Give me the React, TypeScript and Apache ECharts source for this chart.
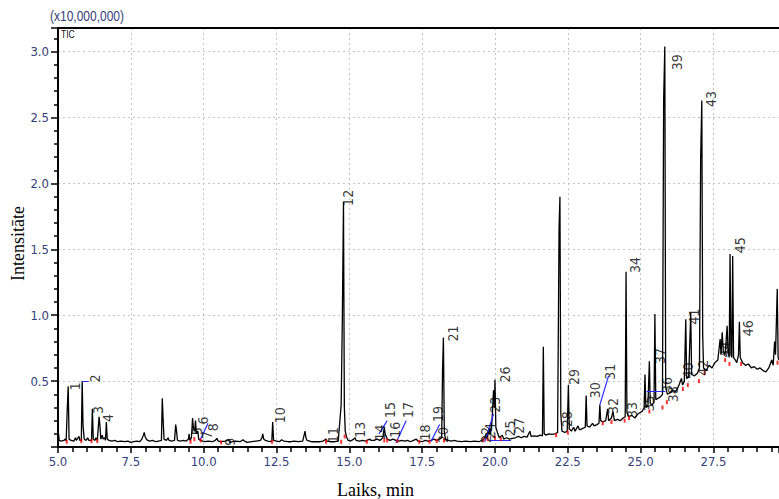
import React, { useEffect, useRef } from "react";
import * as echarts from "echarts";

// ---- data (time in min, intensity in x10,000,000) ----
const trace5to10: [number, number][] = [
  [5.0,0.05],[5.02,0.1],[5.04,0.05],[5.1,0.045],[5.2,0.05],[5.25,0.06],[5.28,0.045],[5.32,0.3],[5.35,0.46],[5.38,0.06],[5.45,0.05],[5.55,0.045],[5.6,0.07],[5.63,0.05],[5.72,0.08],[5.75,0.05],[5.8,0.05],[5.83,0.5],[5.86,0.16],[5.9,0.06],[5.96,0.05],[6.02,0.07],[6.06,0.05],[6.15,0.05],[6.18,0.29],[6.21,0.06],[6.27,0.05],[6.3,0.07],[6.35,0.05],[6.41,0.23],[6.44,0.16],[6.47,0.06],[6.52,0.09],[6.55,0.06],[6.6,0.07],[6.63,0.05],[6.66,0.19],[6.69,0.06],[6.75,0.05],[6.85,0.045],[6.95,0.05],[7.05,0.04],[7.15,0.045],[7.3,0.04],[7.4,0.045],[7.5,0.035],[7.6,0.04],[7.7,0.045],[7.8,0.04],[7.88,0.06],[7.93,0.09],[7.96,0.11],[7.99,0.08],[8.03,0.06],[8.08,0.05],[8.15,0.045],[8.25,0.05],[8.35,0.04],[8.45,0.045],[8.55,0.05],[8.58,0.37],[8.61,0.2],[8.64,0.06],[8.72,0.05],[8.78,0.07],[8.81,0.05],[8.9,0.045],[9.0,0.05],[9.04,0.17],[9.07,0.12],[9.1,0.05],[9.2,0.045],[9.3,0.05],[9.4,0.045],[9.48,0.06],[9.5,0.1],[9.53,0.05],[9.58,0.07],[9.62,0.22],[9.65,0.14],[9.69,0.12],[9.72,0.2],[9.75,0.1],[9.8,0.12],[9.83,0.06],[9.9,0.05],[9.97,0.045]
];
const trace10to15: [number, number][] = [
  [10.05,0.04],[10.15,0.045],[10.3,0.04],[10.4,0.05],[10.45,0.065],[10.5,0.045],[10.6,0.04],[10.75,0.045],[10.85,0.055],[10.9,0.035],[11.0,0.04],[11.1,0.045],[11.25,0.04],[11.35,0.055],[11.4,0.045],[11.5,0.035],[11.65,0.04],[11.8,0.045],[11.95,0.05],[12.0,0.07],[12.03,0.1],[12.06,0.06],[12.12,0.05],[12.2,0.045],[12.3,0.04],[12.34,0.05],[12.37,0.19],[12.4,0.05],[12.5,0.045],[12.6,0.04],[12.68,0.055],[12.75,0.045],[12.9,0.04],[13.0,0.04],[13.1,0.045],[13.25,0.04],[13.4,0.045],[13.48,0.12],[13.51,0.07],[13.55,0.05],[13.7,0.04],[13.85,0.04],[14.0,0.04],[14.1,0.045],[14.2,0.06],[14.23,0.045],[14.35,0.04],[14.5,0.04],[14.62,0.045],[14.72,0.32],[14.76,0.96],[14.8,1.86],[14.83,0.3],[14.86,0.12],[14.9,0.08],[14.96,0.05]
];
const trace15to20: [number, number][] = [
  [15.05,0.045],[15.15,0.06],[15.2,0.07],[15.23,0.05],[15.35,0.045],[15.45,0.05],[15.55,0.045],[15.7,0.06],[15.75,0.05],[15.85,0.05],[15.95,0.06],[16.05,0.05],[16.15,0.07],[16.2,0.15],[16.23,0.1],[16.27,0.08],[16.3,0.06],[16.4,0.05],[16.5,0.06],[16.6,0.05],[16.7,0.045],[16.8,0.05],[16.9,0.045],[17.0,0.05],[17.1,0.04],[17.2,0.05],[17.3,0.06],[17.35,0.045],[17.5,0.04],[17.6,0.05],[17.7,0.045],[17.8,0.05],[17.9,0.06],[18.0,0.05],[18.1,0.06],[18.17,0.07],[18.2,0.58],[18.23,0.83],[18.26,0.12],[18.3,0.06],[18.4,0.05],[18.5,0.045],[18.6,0.05],[18.7,0.045],[18.85,0.04],[19.0,0.045],[19.15,0.04],[19.3,0.045],[19.45,0.04],[19.55,0.05],[19.62,0.06],[19.7,0.1],[19.74,0.07],[19.8,0.14],[19.84,0.09],[19.9,0.2],[19.95,0.43],[19.98,0.3],[20.0,0.51],[20.03,0.15],[20.1,0.1],[20.15,0.07]
];
const trace20to25: [number, number][] = [
  [20.25,0.09],[20.3,0.06],[20.4,0.07],[20.5,0.06],[20.6,0.065],[20.7,0.07],[20.8,0.08],[20.9,0.07],[21.0,0.08],[21.1,0.075],[21.2,0.12],[21.24,0.08],[21.35,0.085],[21.45,0.08],[21.55,0.09],[21.63,0.085],[21.66,0.76],[21.69,0.1],[21.75,0.09],[21.85,0.1],[21.95,0.095],[22.05,0.1],[22.15,0.11],[22.2,1.66],[22.23,1.9],[22.26,0.25],[22.3,0.12],[22.4,0.11],[22.48,0.12],[22.52,0.47],[22.55,0.14],[22.62,0.12],[22.7,0.15],[22.75,0.12],[22.85,0.16],[22.9,0.13],[23.0,0.14],[23.1,0.15],[23.13,0.39],[23.16,0.16],[23.25,0.15],[23.35,0.18],[23.4,0.16],[23.5,0.17],[23.57,0.18],[23.6,0.32],[23.63,0.2],[23.7,0.19],[23.8,0.2],[23.87,0.29],[23.9,0.2],[24.0,0.22],[24.05,0.27],[24.1,0.2],[24.2,0.21],[24.3,0.2],[24.4,0.22],[24.47,0.23],[24.5,1.33],[24.53,0.26],[24.6,0.23],[24.7,0.24],[24.8,0.22],[24.9,0.25],[24.97,0.26]
];
const trace25to30: [number, number][] = [
  [25.05,0.27],[25.12,0.3],[25.15,0.55],[25.18,0.3],[25.25,0.31],[25.3,0.65],[25.33,0.33],[25.4,0.32],[25.46,0.34],[25.49,1.01],[25.52,0.36],[25.6,0.37],[25.68,0.38],[25.75,0.4],[25.79,2.63],[25.83,3.04],[25.86,0.45],[25.92,0.4],[26.0,0.41],[26.1,0.43],[26.2,0.42],[26.3,0.46],[26.4,0.52],[26.44,0.47],[26.5,0.5],[26.55,0.97],[26.58,0.52],[26.65,0.53],[26.72,1.02],[26.75,0.55],[26.85,0.54],[26.95,0.56],[27.02,0.6],[27.06,2.18],[27.1,2.63],[27.13,0.86],[27.16,0.6],[27.25,0.58],[27.35,0.62],[27.45,0.6],[27.55,0.64],[27.65,0.66],[27.73,0.82],[27.76,0.7],[27.8,0.87],[27.84,0.72],[27.9,0.7],[27.97,0.92],[28.0,0.72],[28.04,0.68],[28.07,1.465],[28.1,0.7],[28.13,0.68],[28.16,1.45],[28.19,0.68],[28.25,0.66],[28.3,0.64],[28.36,0.7],[28.39,0.95],[28.42,0.68],[28.5,0.64],[28.6,0.62],[28.7,0.63],[28.8,0.6],[28.9,0.61],[29.0,0.59],[29.1,0.6],[29.2,0.58],[29.3,0.57],[29.4,0.6],[29.5,0.66],[29.55,0.62],[29.6,0.8],[29.63,0.7],[29.69,1.2],[29.72,0.68],[29.75,0.66]
];

// peak numbers: [label, time, intensity at the label's lower end]
const peakLabels: [string, number, number][] = [
  ["1",5.58,0.43],["2",6.28,0.49],["3",6.38,0.25],["4",6.72,0.19],["5",9.77,0.09],["6",9.97,0.17],["7",10.1,0.06],["8",10.31,0.12],
  ["9",10.9,0.01],["10",12.62,0.18],["11",14.45,0.03],["12",14.96,1.83],["13",15.37,0.07],["14",16.05,0.05],["15",16.4,0.22],["16",16.57,0.07],
  ["17",17.03,0.22],["18",17.6,0.05],["19",18.06,0.19],["20",18.23,0.03],["21",18.57,0.8],["22",19.7,0.03],["23",20.0,0.26],["24",19.83,0.06],
  ["25",20.5,0.08],["26",20.35,0.49],["27",20.84,0.1],["28",22.48,0.15],["29",22.71,0.47],["30",23.43,0.37],["31",23.95,0.51],["32",24.04,0.25],
  ["33",24.69,0.22],["34",24.81,1.32],["35",25.3,0.27],["36",25.9,0.41],["37",25.67,0.63],["38",26.1,0.34],["39",26.25,2.86],["40",26.64,0.52],
  ["41",26.83,0.93],["42",27.15,0.54],["43",27.42,2.58],["44",27.9,0.68],["45",28.41,1.47],["46",28.7,0.84]
];

// peak start / end marks
const redMarks: [number, number][] = [
  [5.3,0.04],[5.8,0.045],[6.15,0.045],[6.35,0.045],[9.55,0.04],[9.68,0.06],[9.9,0.05],[10.6,0.035],[12.35,0.04],[14.2,0.04],[14.72,0.04],[14.84,0.08],
  [15.6,0.04],[16.2,0.05],[16.3,0.05],[16.65,0.045],[17.4,0.04],[17.75,0.04],[18.0,0.045],[18.25,0.05],[19.6,0.05],[19.75,0.06],[20.0,0.07],[20.2,0.06],
  [22.1,0.09],[22.5,0.11],[23.7,0.18],[24.0,0.19],[24.45,0.2],[24.6,0.22],[25.3,0.27],[25.75,0.3],[25.9,0.34],[26.45,0.44],[26.62,0.47],[27.0,0.5],
  [27.2,0.56],[27.9,0.66],[28.05,0.63],[28.45,0.63],[29.7,0.64]
];

// leader lines and brackets (blue)
const blueLinks: [number, number][][] = [
  [[5.83,0.5],[6.05,0.5]],
  [[9.87,0.05],[10.15,0.18]],
  [[16.02,0.1],[16.3,0.2]],
  [[16.6,0.03],[16.95,0.2]],
  [[17.8,0.04],[18.1,0.17]],
  [[19.65,0.04],[19.95,0.25]],
  [[19.85,0.05],[20.55,0.05]],
  [[23.6,0.32],[23.9,0.54]],
  [[25.2,0.42],[25.85,0.42]]
];

const xTicks = { min: 5, max: 29.75, step: 2.5 };
const yTicks = { min: 0, max: 3.18, step: 0.5 };

const NARROW = "'Liberation Sans Narrow', 'DejaVu Sans Condensed', 'Liberation Sans', sans-serif";
const TICK = "#34407a";
const SERIF = "18px 'Liberation Serif', 'DejaVu Serif', serif";

export default function App() {
  const ref = useRef<HTMLDivElement>(null);
  useEffect(() => {
    if (!ref.current) return;
    const chart = echarts.init(ref.current, null, { renderer: "svg" });
    const trace = [...trace5to10, ...trace10to15, ...trace15to20, ...trace20to25, ...trace25to30];
    chart.setOption({
      animation: false,
      backgroundColor: "#fff",
      grid: { left: 58, top: 28, right: 0, bottom: 52 },
      xAxis: [
        {
          type: "value", min: xTicks.min, max: xTicks.max, interval: xTicks.step,
          axisLine: { onZero: false, lineStyle: { color: "#000", width: 2 } },
          axisTick: { length: 6, lineStyle: { color: "#000", width: 1.5 } },
          minorTick: { show: true, splitNumber: 5, length: 5, lineStyle: { color: "#000", width: 1.5 } },
          axisLabel: { formatter: (v: number) => v.toFixed(1), color: TICK, fontSize: 13, fontFamily: NARROW, margin: 8, showMaxLabel: false },
          splitLine: { show: true, lineStyle: { color: "#c4c4c4", type: [2, 3], width: 1 } },
        },
        {
          type: "value", position: "top", min: xTicks.min, max: xTicks.max, interval: xTicks.step,
          axisLine: { show: true, onZero: false, lineStyle: { color: "#000", width: 2 } },
          axisTick: { show: false }, axisLabel: { show: false }, splitLine: { show: false },
        },
      ],
      yAxis: {
        type: "value", min: yTicks.min, max: yTicks.max, interval: yTicks.step,
        axisLine: { show: true, onZero: false, lineStyle: { color: "#000", width: 2 } },
        axisTick: { show: true, length: 7, lineStyle: { color: "#000", width: 1.5 } },
        minorTick: { show: true, splitNumber: 5, length: 4, lineStyle: { color: "#000", width: 1.5 } },
        axisLabel: { formatter: (v: number) => v.toFixed(1), color: TICK, fontSize: 13, fontFamily: NARROW, margin: 9, showMinLabel: false, showMaxLabel: false },
        splitLine: { show: true, lineStyle: { color: "#c4c4c4", type: [2, 3], width: 1 } },
      },
      graphic: [
        { type: "text", x: 50, y: 9, scaleX: 0.8, style: { text: "(x10,000,000)", fill: TICK, font: "15px 'Liberation Sans', sans-serif" } },
        { type: "text", x: 61, y: 30, scaleX: 0.85, style: { text: "TIC", fill: "#111111", font: "10px 'Liberation Sans', sans-serif" } },
        { type: "text", x: 337, y: 481, style: { text: "Laiks, min", fill: "#000", font: SERIF } },
        { type: "text", x: 9, y: 281, rotation: Math.PI / 2, style: { text: "Intensitāte", fill: "#000", font: SERIF } },
      ],
      series: [
        {
          type: "line", data: trace, showSymbol: false, symbol: "none",
          lineStyle: { color: "#000", width: 1.3 }, z: 3,
        },
        {
          type: "lines", coordinateSystem: "cartesian2d", xAxisIndex: 0, yAxisIndex: 0,
          data: blueLinks.map((c) => ({ coords: c })),
          lineStyle: { color: "#2a2aff", width: 1.2, opacity: 1 }, z: 4,
        },
        {
          type: "scatter", data: redMarks, symbol: "rect", symbolSize: [2, 4],
          itemStyle: { color: "#ff0000" }, z: 5,
        },
        {
          type: "scatter", symbolSize: 0, z: 6,
          data: peakLabels.map(([n, t, v]) => ({ name: n, value: [t, v] })),
          label: {
            show: true, formatter: (p: any) => p.name, position: "inside", rotate: 90,
            align: "left", verticalAlign: "middle", color: "#000", fontSize: 14, fontFamily: NARROW,
          },
        },
      ],
    });
    return () => chart.dispose();
  }, []);
  return <div ref={ref} style={{ position: "absolute", left: 0, top: 0, width: 779, height: 499 }} />;
}
